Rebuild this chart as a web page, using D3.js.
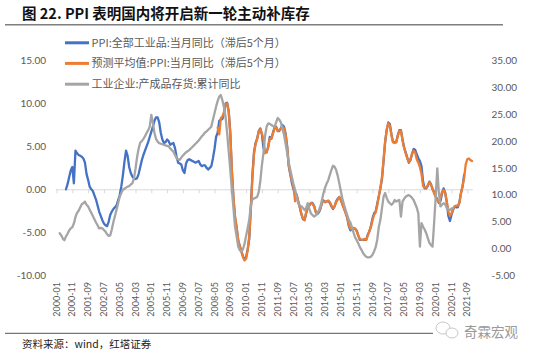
<!DOCTYPE html>
<html><head><meta charset="utf-8">
<script src="https://cdn.jsdelivr.net/npm/d3@7"></script>
<style>body{margin:0;background:#fff}svg{display:block}</style>
</head><body>
<svg id="c" width="550" height="358"></svg>
<script>
// ---------- DATA ----------
const firstMonth = "2000-01", lastMonth = "2021-12";
const tickLabels = ["2000-01","2000-11","2001-09","2002-07","2003-05","2004-03","2005-01","2005-11","2006-09","2007-07","2008-05","2009-03","2010-01","2010-11","2011-09","2012-07","2013-05","2014-03","2015-01","2015-11","2016-09","2017-07","2018-05","2019-03","2020-01","2020-11","2021-09"];
const leftTicks = [-10,-5,0,5,10,15];
const rightTicks = [-5,0,5,10,15,20,25,30,35];

// PPI YoY (lagged 5 months), left axis, starting 2000-07
const ppiStart = "2000-07";
const ppiValues = [0.0,0.6,1.4,2.2,2.6,0.7,4.5,4.2,4.0,3.9,3.8,3.6,3.1,1.8,1.1,0.3,0.0,-0.2,-0.7,-1.2,-1.9,-2.6,-3.1,-3.6,-4.0,-4.2,-4.3,-3.8,-3.0,-2.6,-2.3,-2.1,-1.9,-1.3,-0.7,0.3,1.6,3.2,4.5,3.9,2.6,1.9,1.5,1.3,1.2,1.3,1.8,2.6,3.4,4.0,4.5,5.0,5.5,6.1,6.7,7.3,8.0,8.4,8.4,7.8,6.6,5.8,5.4,5.5,5.8,5.6,5.2,5.3,5.4,4.8,3.8,3.1,3.0,2.9,2.2,1.9,3.0,3.4,3.5,3.4,3.3,3.2,3.1,3.2,3.3,2.9,2.7,2.8,2.8,2.5,2.3,2.5,2.7,3.6,4.7,
6.1,6.6,8.0,8.1,8.2,8.8,10.0,10.1,9.1,6.6,2.0,-1.1,-3.3,-4.5,-6.0,-6.6,-7.2,-7.8,-8.2,-7.9,-7.0,-5.8,-2.1,1.7,4.3,5.4,5.9,6.8,7.1,6.4,4.8,4.3,4.3,5.0,6.1,5.9,6.6,7.2,7.3,6.8,6.8,7.1,7.5,7.3,6.5,5.0,2.7,1.7,0.7,0.0,-0.3,-0.7,-1.4,-2.1,-2.9,-3.5,-3.6,-2.8,-2.2,-1.9,-1.6,-1.6,-1.9,-2.6,-2.9,-2.7,-2.3,-1.6,-1.3,-1.5,-1.4,-1.4,-1.6,-2.0,-2.3,-2.0,-1.4,-1.1,-0.9,-1.2,-1.8,-2.2,-2.7,-3.3,-4.3,-4.8,-4.6,-4.6,-4.6,-4.8,-5.4,-5.9,-5.9,-5.9,-5.9,-5.9,-5.3,-4.9,-4.3,-3.4,-2.8,-2.6,-1.7,-0.8,0.1,1.2,3.3,5.5,6.9,7.8,7.6,6.4,5.5,5.5,5.5,6.3,6.9,6.9,5.8,4.9,4.3,3.7,3.1,3.4,4.1,4.7,4.6,4.1,3.6,3.3,2.7,0.9,0.1,0.1,0.4,0.9,0.6,0.0,-0.3,-0.8,-1.2,-1.6,-1.4,-0.5,0.1,-0.4,-1.5,-3.1,-3.7,-3.0,-2.4,-2.0,-2.1,-2.1,-1.5,-0.4,0.3,1.7];

// Forecast average PPI YoY (lagged 5 months), left axis, starting 2008-07
const fcStart = "2008-07";
const fcValues = [7.2,6.4,8.3,8.5,9.0,9.9,10.0,9.0,6.4,2.3,-0.9,-3.2,-4.4,-5.9,-6.7,-7.3,-7.9,-8.3,-8.1,-7.1,-5.4,-2.4,1.4,4.1,5.3,5.9,6.7,7.0,6.5,5.8,4.2,4.4,4.9,5.9,5.9,6.5,7.1,7.2,6.8,6.9,7.1,7.3,7.1,6.4,4.9,2.8,1.8,1.0,0.3,-1.4,-0.6,-1.5,-2.1,-2.9,-3.4,-3.6,-2.7,-2.2,-1.8,-1.6,-1.7,-2.0,-2.6,-2.8,-2.6,-2.2,-1.6,-1.4,-1.5,-1.4,-1.3,-1.5,-1.9,-2.2,-2.0,-1.5,-1.2,-0.9,-1.3,-1.8,-2.3,-2.8,-3.3,-4.2,-4.6,-4.5,-4.5,-4.6,-4.9,-5.4,-5.8,-5.9,-5.9,-5.8,-5.9,-5.4,-4.9,-4.4,-3.6,-3.0,-2.7,-1.9,-0.8,0.2,1.4,3.5,5.6,7.0,7.7,7.4,6.3,5.5,5.4,5.5,6.2,6.8,6.8,5.7,4.8,4.2,3.6,3.2,3.5,4.1,4.5,4.3,3.5,3.1,2.6,1.8,0.4,0.2,0.2,0.5,0.8,0.5,0.1,-0.5,-0.9,-1.3,-1.5,-1.0,-0.3,-0.1,-0.4,-1.4,-2.6,-3.1,-2.8,-2.3,-2.0,-1.9,-1.9,-1.6,-0.5,0.4,1.3,2.9,3.5,3.6,3.4,3.3];

// Industrial enterprises finished goods inventory, cumulative YoY, right axis, starting 2000-03
const invStart = "2000-03";
const invValues = [2.8,2.4,1.8,1.5,2.2,2.7,3.3,3.7,3.9,4.6,5.8,6.6,7.0,7.6,8.2,8.4,8.7,8.1,7.8,7.2,6.6,6.0,5.4,4.8,4.3,3.7,3.8,3.7,3.4,3.1,2.6,2.3,2.4,3.5,4.9,6.0,7.2,8.4,9.6,10.3,10.9,11.1,11.3,11.5,11.6,11.9,12.1,13.0,14.8,17.0,18.6,19.7,20.0,20.4,20.9,21.5,22.0,22.7,24.9,23.4,21.5,20.4,19.9,19.6,19.5,19.4,19.3,19.2,19.1,19.0,18.6,18.3,18.0,17.4,16.8,16.6,16.5,16.9,17.3,17.6,17.9,18.1,18.3,18.6,18.9,19.2,19.5,19.8,20.1,20.5,20.9,21.2,21.6,21.8,22.1,22.4,22.7,24.0,25.2,26.4,27.5,28.3,28.6,27.6,26.3,24.5,21.5,18.0,14.6,10.9,7.5,4.0,2.2,0.3,-0.4,-0.6,-0.2,0.8,2.3,3.8,5.3,8.0,9.1,9.3,9.4,9.6,10.5,12.5,15.5,17.8,21.0,22.7,23.3,23.2,23.0,22.8,22.7,23.5,24.3,24.0,23.5,22.3,21.2,19.5,17.8,16.0,14.6,13.3,12.0,10.9,9.5,8.4,8.0,7.8,7.5,7.1,7.5,8.4,7.4,6.5,6.2,5.9,6.1,6.5,7.0,7.8,9.0,10.3,11.3,12.1,12.7,13.7,14.6,15.4,15.2,14.6,13.5,12.1,10.6,9.2,8.1,7.1,6.2,5.3,4.8,3.9,2.9,2.0,1.5,0.9,0.2,-0.3,-0.9,-1.3,-1.6,-1.7,-1.7,-1.6,-1.2,-0.6,0.2,1.6,4.0,5.3,7.5,9.6,10.3,9.4,8.7,8.4,8.1,8.4,9.0,8.7,8.9,9.0,5.9,8.7,9.2,9.6,9.8,9.9,9.7,9.4,9.0,8.3,7.6,6.5,0.3,4.7,4.0,3.5,2.8,1.9,1.0,0.6,0.3,4.7,9.6,14.9,10.3,7.8,8.1,8.4,8.2,7.5,7.3,7.1,7.4,7.5];

const seriesNames = ["PPI:全部工业品:当月同比（滞后5个月）","预测平均值:PPI:当月同比（滞后5个月）","工业企业:产成品存货:累计同比"];
const seriesColors = ["#4472C4","#ED7D31","#A5A5A5"];

// ---------- HELPERS ----------
function monthSeq(a, b){
  const [ya,ma]=a.split("-").map(Number),[yb,mb]=b.split("-").map(Number);
  const out=[]; let y=ya,m=ma;
  while(y<yb||(y===yb&&m<=mb)){out.push(y+"-"+String(m).padStart(2,"0")); m++; if(m>12){m=1;y++;}}
  return out;
}
const months = monthSeq(firstMonth,lastMonth);
function toPoints(start, vals){
  const i0 = months.indexOf(start);
  return vals.map((v,i)=>({d:months[i0+i], v}));
}
const ppi = toPoints(ppiStart, ppiValues);
const fc = toPoints(fcStart, fcValues);
const inv = toPoints(invStart, invValues);

// ---------- CHART ----------
const svg = d3.select("#c");
const fmt = d3.formatLocale({decimal:".",thousands:",",grouping:[3],currency:["",""],minus:"-"}).format(".2f");
const textCol = "#595959";
const numFont = "Lato, 'Liberation Sans', sans-serif";
const cjkFont = "'Noto Sans CJK SC', sans-serif";

const x = d3.scalePoint().domain(months).range([56.5, 56.5 + (months.length-1)*1.58]);
const yL = d3.scaleLinear().domain([-10,15]).range([275,60.7]);
const yR = d3.scaleLinear().domain([-5,35]).range([275,60.7]);

// title
svg.append("text").attr("x",22).attr("y",18.5).attr("font-family",cjkFont).attr("font-weight","bold")
  .attr("font-size",14.5).attr("fill","#111").text("图 22. PPI 表明国内将开启新一轮主动补库存");
svg.append("line").attr("x1",5).attr("x2",503).attr("y1",24.7).attr("y2",24.7).attr("stroke","#7f7f7f").attr("stroke-width",1.5);

// zero axis line with ticks
const xAxisG = svg.append("g").attr("transform",`translate(0,${yL(0)})`)
  .call(d3.axisBottom(x).tickValues(tickLabels).tickSize(4).tickFormat(""));
xAxisG.select(".domain").attr("stroke","#d9d9d9").attr("d",`M${x(firstMonth)-0.8},0.5H${x(lastMonth)+0.8}`);
xAxisG.selectAll(".tick line").attr("stroke","#d9d9d9");

// x labels at bottom
const xLab = svg.append("g");
xLab.selectAll("text").data(tickLabels).join("text")
  .attr("transform",d=>`translate(${x(d)},282) rotate(-90)`)
  .attr("text-anchor","end").attr("dy","0.35em")
  .attr("font-family",numFont).attr("font-size",9).attr("fill",textCol).text(d=>d);

// left axis
const gl = svg.append("g").attr("transform","translate(46,0)")
  .call(d3.axisLeft(yL).tickValues(leftTicks).tickSize(0).tickPadding(0).tickFormat(fmt));
gl.select(".domain").remove();
gl.selectAll("text").attr("font-family",numFont).attr("font-size",10).attr("fill",textCol);

// right axis
const gr = svg.append("g").attr("transform","translate(491.5,0)")
  .call(d3.axisRight(yR).tickValues(rightTicks).tickSize(0).tickPadding(0).tickFormat(fmt));
gr.select(".domain").remove();
gr.selectAll("text").attr("font-family",numFont).attr("font-size",10).attr("fill",textCol);

// lines
const lineL = d3.line().x(d=>x(d.d)).y(d=>yL(d.v));
const lineR = d3.line().x(d=>x(d.d)).y(d=>yR(d.v));
const lg = svg.append("g").attr("fill","none").attr("stroke-width",2.3).attr("stroke-linejoin","round").attr("stroke-linecap","round");
lg.append("path").datum(ppi).attr("d",lineL).attr("stroke",seriesColors[0]);
lg.append("path").datum(fc).attr("d",lineL).attr("stroke",seriesColors[1]);
lg.append("path").datum(inv).attr("d",lineR).attr("stroke",seriesColors[2]);

// legend
const legY = [42.8,63.4,84.2];
const leg = svg.append("g");
seriesNames.forEach((n,i)=>{
  leg.append("line").attr("x1",65).attr("x2",89).attr("y1",legY[i]).attr("y2",legY[i])
    .attr("stroke",seriesColors[i]).attr("stroke-width",3);
  leg.append("text").attr("x",91.5).attr("y",legY[i]).attr("dy","0.36em")
    .attr("font-family",cjkFont).attr("font-size",11).attr("fill",textCol).text(n);
});

// footer
svg.append("line").attr("x1",5).attr("x2",433).attr("y1",333.3).attr("y2",333.3).attr("stroke","#555").attr("stroke-width",1);
svg.append("text").attr("x",22).attr("y",347.5).attr("font-family",cjkFont).attr("font-size",10.5).attr("fill","#222")
  .text("资料来源：wind，红塔证券");
// watermark
const wm = svg.append("g").attr("fill","none").attr("stroke","#c8c8c8").attr("stroke-width",1);
wm.append("ellipse").attr("cx",443).attr("cy",328).attr("rx",7).attr("ry",6);
wm.append("ellipse").attr("cx",452).attr("cy",333).attr("rx",6).attr("ry",5).attr("fill","#fff");
svg.append("text").attr("x",464).attr("y",337).attr("font-family",cjkFont).attr("font-size",13.5).attr("fill","#9a9a9a")
  .text("奇霖宏观");
</script>
</body></html>
